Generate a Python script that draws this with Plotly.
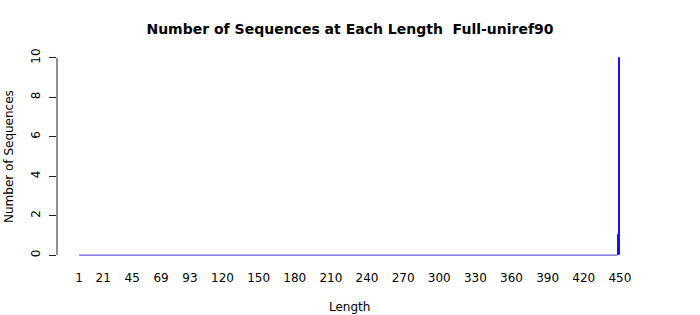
import plotly.graph_objects as go

# Data
lengths = list(range(1, 451))
counts = [0] * 448 + [1, 10]
x_tick_vals = [1, 21, 45, 69, 93, 120, 150, 180, 210, 240, 270, 300, 330, 360, 390, 420, 450]
y_tick_vals = [0, 2, 4, 6, 8, 10]

zero_x = [l for l, c in zip(lengths, counts) if c == 0]
zero_y = [0 for _ in zero_x]
nz_x = [l for l, c in zip(lengths, counts) if c > 0]
nz_y = [c for c in counts if c > 0]

FONT = "DejaVu Sans"
BLUE = "#1a0ff0"
FILL = "#5533EE"

fig = go.Figure()
# baseline drawn by the borders of zero-height bars in the original
fig.add_trace(go.Scatter(x=zero_x, y=zero_y, mode="lines",
                         line=dict(color="#3a2fd8", width=1), hoverinfo="skip",
                         showlegend=False))
fig.add_trace(go.Bar(x=nz_x, y=nz_y, width=0.85,
                     marker=dict(color=FILL, line=dict(color=BLUE, width=1)),
                     showlegend=False))

fig.add_shape(type="line", xref="paper", yref="y", x0=0, x1=0, y0=0, y1=10,
              line=dict(color="#222222", width=1))

fig.update_layout(
    width=700, height=315,
    margin=dict(l=57, r=58, t=50, b=52),
    paper_bgcolor="white", plot_bgcolor="white",
    font=dict(family=FONT, size=12, color="black"),
    title=dict(text="<b>Number of Sequences at Each Length  Full-uniref90</b>",
               x=0.5, xanchor="center", y=1 - 29 / 315, yanchor="middle",
               font=dict(family=FONT, size=14, color="black")),
    bargap=0,
    xaxis=dict(range=[-17.4, 468.4], tickmode="array", tickvals=x_tick_vals,
               ticktext=[str(v) for v in x_tick_vals], ticks="", showline=False,
               showgrid=False, zeroline=False, ticklabelstandoff=6),
    yaxis=dict(range=[-0.4, 10.4], tickmode="array", tickvals=y_tick_vals,
               ticks="outside", ticklen=7, tickcolor="#222222", tickangle=-90,
               showline=False, showgrid=False, zeroline=False,
               ticklabelstandoff=4),
    annotations=[
        dict(text="Length", xref="paper", yref="paper", x=0.5,
             y=-(307 - 263) / 213, xanchor="center", yanchor="middle",
             showarrow=False, font=dict(family=FONT, size=12)),
        dict(text="Number of Sequences", xref="paper", yref="paper",
             x=(9 - 57) / 585, y=(263 - 157) / 213, xanchor="center",
             yanchor="middle", textangle=-90, showarrow=False,
             font=dict(family=FONT, size=12)),
    ],
)

fig.write_html("out.html")
